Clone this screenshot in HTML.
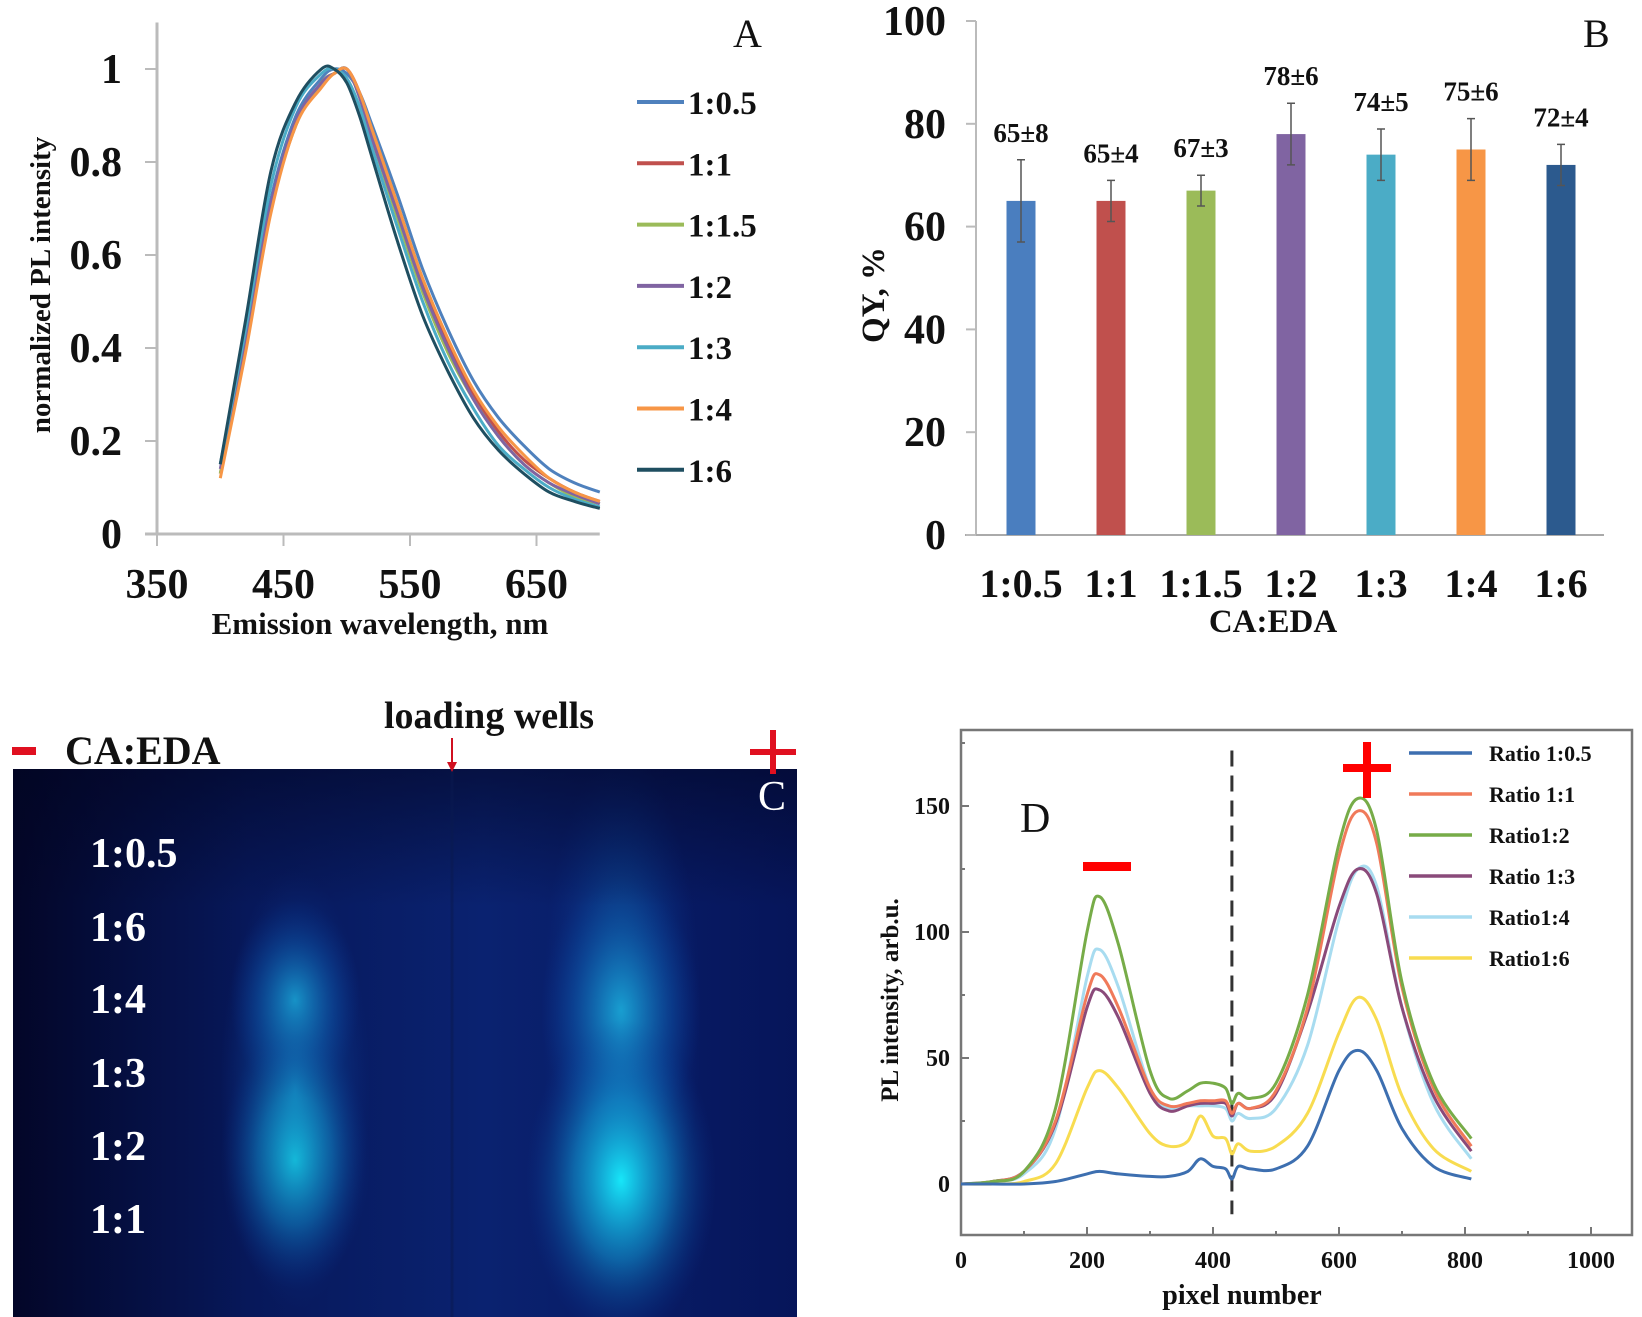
<!DOCTYPE html>
<html><head><meta charset="utf-8">
<style>
html,body{margin:0;padding:0;background:#fff;}
svg{display:block;}
text{font-family:"Liberation Serif",serif;font-weight:bold;fill:#111;}
</style></head>
<body>
<svg id="fig" width="1642" height="1317" viewBox="0 0 1642 1317" xmlns="http://www.w3.org/2000/svg">
<defs>
<linearGradient id="gelbg" x1="0" y1="0" x2="1" y2="0">
<stop offset="0" stop-color="#030628"/><stop offset="0.3" stop-color="#07185a"/><stop offset="0.6" stop-color="#0a2270"/><stop offset="1" stop-color="#06155a"/>
</linearGradient>
<linearGradient id="gelv" x1="0" y1="0" x2="0" y2="1">
<stop offset="0" stop-color="#020420" stop-opacity="0.55"/><stop offset="0.25" stop-color="#020420" stop-opacity="0"/><stop offset="1" stop-color="#020420" stop-opacity="0"/>
</linearGradient>
<radialGradient id="glow"><stop offset="0" stop-color="#18f0ff" stop-opacity="0.95"/><stop offset="0.5" stop-color="#12a8e0" stop-opacity="0.5"/><stop offset="1" stop-color="#0a3a9a" stop-opacity="0"/></radialGradient>
<radialGradient id="glow2"><stop offset="0" stop-color="#1aa8d8" stop-opacity="0.8"/><stop offset="0.6" stop-color="#0e5cb0" stop-opacity="0.35"/><stop offset="1" stop-color="#0a3a9a" stop-opacity="0"/></radialGradient>
<clipPath id="gelclip"><rect x="13" y="769" width="784" height="548"/></clipPath>
</defs>
<g id="panelA"></g>
<g id="panelB"></g>
<g id="panelC">
 <g clip-path="url(#gelclip)">
  <rect x="13" y="769" width="784" height="548" fill="url(#gelbg)"/>
  <ellipse cx="295" cy="1090" rx="75" ry="220" fill="url(#glow2)" opacity="0.8"/>
  <ellipse cx="295" cy="1000" rx="65" ry="100" fill="url(#glow2)"/>
  <ellipse cx="295" cy="1160" rx="75" ry="130" fill="url(#glow)" opacity="0.7"/>
  <ellipse cx="621" cy="1020" rx="80" ry="270" fill="url(#glow2)" opacity="0.85"/>
  <ellipse cx="621" cy="1010" rx="80" ry="130" fill="url(#glow2)"/>
  <ellipse cx="621" cy="1180" rx="95" ry="160" fill="url(#glow)"/>
  <rect x="13" y="769" width="784" height="548" fill="url(#gelv)"/>
  <line x1="452" y1="769" x2="452" y2="1317" stroke="#0a1a50" stroke-width="3" opacity="0.5"/>
 </g>
  <text x="90" y="867" font-size="42" style="fill:#fff">1:0.5</text>
  <text x="90" y="941" font-size="42" style="fill:#fff">1:6</text>
  <text x="90" y="1013" font-size="42" style="fill:#fff">1:4</text>
  <text x="90" y="1087" font-size="42" style="fill:#fff">1:3</text>
  <text x="90" y="1160" font-size="42" style="fill:#fff">1:2</text>
  <text x="90" y="1233" font-size="42" style="fill:#fff">1:1</text>
  <text x="758" y="810" font-size="42" style="fill:#fff;font-weight:normal">C</text>
  <rect x="12" y="747" width="24" height="8" fill="#e01020"/>
  <text x="65" y="764" font-size="40">CA:EDA</text>
  <text x="489" y="728" font-size="38" text-anchor="middle">loading wells</text>
  <line x1="452" y1="738" x2="452" y2="770" stroke="#d01020" stroke-width="2"/>
  <polygon points="447,762 457,762 452,772" fill="#d01020"/>
  <rect x="750" y="749" width="46" height="6" fill="#e01020"/>
  <rect x="770" y="730" width="6" height="44" fill="#e01020"/>
</g>
<g id="panelD"></g>
</svg>
<script>
const NS="http://www.w3.org/2000/svg";
function mk(parent,tag,attrs,txt){const e=document.createElementNS(NS,tag);for(const k in attrs)e.setAttribute(k,attrs[k]);if(txt!==undefined)e.textContent=txt;parent.appendChild(e);return e;}
function smooth(pts){
 let d='M'+pts[0][0].toFixed(1)+','+pts[0][1].toFixed(1);
 for(let i=0;i<pts.length-1;i++){
  const p0=pts[i-1]||pts[i],p1=pts[i],p2=pts[i+1],p3=pts[i+2]||p2;
  const c1=[p1[0]+(p2[0]-p0[0])/6,p1[1]+(p2[1]-p0[1])/6];
  const c2=[p2[0]-(p3[0]-p1[0])/6,p2[1]-(p3[1]-p1[1])/6];
  d+='C'+c1[0].toFixed(1)+','+c1[1].toFixed(1)+' '+c2[0].toFixed(1)+','+c2[1].toFixed(1)+' '+p2[0].toFixed(1)+','+p2[1].toFixed(1);
 }
 return d;
}

// ---------- Panel A data ----------
const aWavelengths=[400,420,440,460,480,490,500,510,520,540,560,580,600,620,640,660,680,700];
const aSeriesNames=["1:0.5","1:1","1:1.5","1:2","1:3","1:4","1:6"];
const aColors=["#4f81bd","#c0504d","#9bbb59","#8064a2","#4bacc6","#f79646","#1f4e60"];
const aS05=[0.15,0.42,0.72,0.90,0.98,1.00,0.99,0.95,0.88,0.73,0.57,0.44,0.33,0.25,0.19,0.14,0.11,0.09];
const aS1=[0.13,0.40,0.70,0.88,0.97,0.99,1.00,0.95,0.86,0.70,0.54,0.41,0.30,0.22,0.16,0.12,0.09,0.07];
const aS15=[0.13,0.40,0.70,0.88,0.97,0.99,1.00,0.94,0.85,0.68,0.52,0.39,0.29,0.21,0.15,0.11,0.08,0.065];
const aS2=[0.14,0.41,0.71,0.89,0.97,0.99,1.00,0.94,0.85,0.69,0.53,0.40,0.29,0.21,0.15,0.11,0.085,0.065];
const aS3=[0.15,0.44,0.75,0.92,0.99,1.00,0.98,0.92,0.83,0.66,0.50,0.37,0.27,0.19,0.14,0.10,0.075,0.058];
const aS4=[0.12,0.39,0.69,0.88,0.96,0.99,1.00,0.95,0.87,0.71,0.55,0.42,0.31,0.23,0.17,0.12,0.09,0.07];
const aS6=[0.15,0.46,0.78,0.93,1.00,1.00,0.97,0.90,0.81,0.63,0.47,0.35,0.25,0.18,0.13,0.09,0.07,0.055];
const aSeries=[aS05,aS1,aS15,aS2,aS3,aS4,aS6];
const aXTicks=[350,450,550,650];
const aYTicks=[0,0.2,0.4,0.6,0.8,1];
const aYTickLabels=["0","0.2","0.4","0.6","0.8","1"];

// ---------- Panel B data ----------
const bCategories=["1:0.5","1:1","1:1.5","1:2","1:3","1:4","1:6"];
const bValues=[65,65,67,78,74,75,72];
const bErrors=[8,4,3,6,5,6,4];
const bColors=["#4a7ebf","#c0504d","#9bbb59","#8064a2","#4bacc6","#f79646","#2c5a8e"];
const bYTicks=[0,20,40,60,80,100];

// ---------- Panel D data ----------
const dPixels=[0,50,100,150,200,220,250,300,330,360,380,400,420,430,440,460,500,550,600,630,660,700,750,810];
const dNames=["Ratio 1:0.5","Ratio 1:1","Ratio1:2","Ratio 1:3","Ratio1:4","Ratio1:6"];
const dColors=["#3d6fb0","#f07a5a","#77ac48","#8a4a7a","#a8dcf0","#f8dc50"];
const dR05=[0,0,0,1,4,5,4,3,3,5,10,7,6,2,7,6,6,15,45,53,45,22,7,2];
const dR1=[0,1,5,25,75,83,70,38,31,32,33,33,33,28,32,30,37,70,130,148,135,78,38,15];
const dR2=[0,1,5,30,100,114,95,45,34,37,40,40,38,32,36,34,40,75,135,153,140,80,40,18];
const dR3=[0,1,5,24,70,77,66,36,29,31,32,32,32,27,32,30,36,68,110,125,115,70,35,13];
const dR4=[0,1,4,22,82,93,78,38,30,31,31,31,30,25,28,26,30,55,105,125,118,70,32,10];
const dR6=[0,0,1,8,38,45,38,20,15,17,27,19,18,12,16,13,15,28,60,74,65,35,14,5];
const dSeries=[dR05,dR1,dR2,dR3,dR4,dR6];
const dXTicks=[0,200,400,600,800,1000];
const dYTicks=[0,50,100,150];
const dDashX=430;

// ---------- Draw A ----------
(function(){
 const g=document.getElementById('panelA');
 const x=v=>157+(v-350)*1.265, y=v=>534-v*465;
 let e=mk(g,'line',{x1:157,y1:y(1.1),x2:157,y2:534,stroke:'#bbb','stroke-width':3});
 
 e=mk(g,'line',{x1:145,y1:534,x2:x(700),y2:534,stroke:'#bbb','stroke-width':3});
 
 aYTicks.forEach((t,i)=>{
  mk(g,'line',{x1:145,y1:y(t),x2:157,y2:y(t),stroke:'#bbb','stroke-width':2});
  const tx=mk(g,'text',{x:122,y:y(t)+14,'font-size':42,'text-anchor':'end'},aYTickLabels[i]);
  
 });
 aXTicks.forEach(t=>{
  mk(g,'line',{x1:x(t),y1:534,x2:x(t),y2:546,stroke:'#bbb','stroke-width':2});
  const tx=mk(g,'text',{x:x(t),y:598,'font-size':42,'text-anchor':'middle'},String(t));
  
 });
 e=mk(g,'text',{x:380,y:634,'font-size':31,'text-anchor':'middle'},'Emission wavelength, nm');
 
 e=mk(g,'text',{x:0,y:0,'font-size':29,'text-anchor':'middle',transform:'translate(50,285) rotate(-90)'},'normalized PL intensity');
 
 e=mk(g,'text',{x:733,y:47,'font-size':40,style:'font-weight:normal'},'A');
 
 aSeries.forEach((s,i)=>{
  const d=smooth(s.map((v,j)=>[x(aWavelengths[j]),y(v)]));
  const p=mk(g,'path',{d:d,fill:'none',stroke:aColors[i],'stroke-width':3,'stroke-linejoin':'round'});
  
  const ly=102+i*61.3;
  const l=mk(g,'line',{x1:637,y1:ly,x2:684,y2:ly,stroke:aColors[i],'stroke-width':4});
  
  const t=mk(g,'text',{x:688,y:ly+12,'font-size':33},aSeriesNames[i]);
  
 });
})();

// ---------- Draw B ----------
(function(){
 const g=document.getElementById('panelB');
 const y=v=>535-v*5.14, cx=i=>1021+i*90;
 let e=mk(g,'line',{x1:976,y1:y(100),x2:976,y2:535,stroke:'#bbb','stroke-width':2});
 
 e=mk(g,'line',{x1:965,y1:535,x2:1604,y2:535,stroke:'#aaa','stroke-width':2});
 
 bYTicks.forEach(t=>{
  mk(g,'line',{x1:966,y1:y(t),x2:976,y2:y(t),stroke:'#bbb','stroke-width':2});
  const tx=mk(g,'text',{x:946,y:y(t)+14,'font-size':42,'text-anchor':'end'},String(t));
  
 });
 bValues.forEach((v,i)=>{
  const r=mk(g,'rect',{x:cx(i)-14.5,y:y(v),width:29,height:535-y(v),fill:bColors[i]});
  
  const eb=mk(g,'path',{d:`M${cx(i)},${y(v+bErrors[i])}V${y(v-bErrors[i])}M${cx(i)-4},${y(v+bErrors[i])}H${cx(i)+4}M${cx(i)-4},${y(v-bErrors[i])}H${cx(i)+4}`,stroke:'#555','stroke-width':1.5,fill:'none'});
  
  const vl=mk(g,'text',{x:cx(i),y:y(v+bErrors[i])-18,'font-size':27,'text-anchor':'middle'},v+'±'+bErrors[i]);
  
  const cl=mk(g,'text',{x:cx(i),y:597,'font-size':40,'text-anchor':'middle'},bCategories[i]);
  
 });
 e=mk(g,'text',{x:1273,y:632,'font-size':33,'text-anchor':'middle'},'CA:EDA');
 
 e=mk(g,'text',{x:0,y:0,'font-size':33,'text-anchor':'middle',transform:'translate(884,295) rotate(-90)'},'QY, %');
 
 e=mk(g,'text',{x:1583,y:47,'font-size':40,style:'font-weight:normal'},'B');
 
})();

// ---------- Draw D ----------
(function(){
 const g=document.getElementById('panelD');
 const x=v=>961+v*0.63, y=v=>1184-v*2.52;
 let e=mk(g,'rect',{x:961,y:730,width:671,height:505,fill:'none',stroke:'#777','stroke-width':2.5});
 
 dXTicks.forEach(t=>{
  mk(g,'line',{x1:x(t),y1:1235,x2:x(t),y2:1227,stroke:'#777','stroke-width':2});
  mk(g,'line',{x1:x(t+100),y1:1235,x2:x(t+100),y2:1231,stroke:'#777','stroke-width':2});
  const tx=mk(g,'text',{x:x(t),y:1268,'font-size':24,'text-anchor':'middle'},String(t));
  
 });
 dYTicks.forEach(t=>{
  mk(g,'line',{x1:961,y1:y(t),x2:969,y2:y(t),stroke:'#777','stroke-width':2});
  mk(g,'line',{x1:961,y1:y(t+25),x2:965,y2:y(t+25),stroke:'#777','stroke-width':2});
  const tx=mk(g,'text',{x:950,y:y(t)+8,'font-size':24,'text-anchor':'end'},String(t));
  
 });
 e=mk(g,'text',{x:1242,y:1304,'font-size':28,'text-anchor':'middle'},'pixel number');
 
 e=mk(g,'text',{x:0,y:0,'font-size':25,'text-anchor':'middle',transform:'translate(898,1000) rotate(-90)'},'PL intensity, arb.u.');
 
 e=mk(g,'line',{x1:x(dDashX),y1:y(172),x2:x(dDashX),y2:y(-12),stroke:'#333','stroke-width':3,'stroke-dasharray':'16,9'});
 
 const order=[4,5,3,1,2,0];
 order.forEach(i=>{
  const s=dSeries[i];
  const d=smooth(s.map((v,j)=>[x(dPixels[j]),y(v)]));
  const p=mk(g,'path',{d:d,fill:'none',stroke:dColors[i],'stroke-width':3,'stroke-linejoin':'round'});
  
 });
 dNames.forEach((n,i)=>{
  const ly=753+i*41;
  const l=mk(g,'line',{x1:1409,y1:ly,x2:1472,y2:ly,stroke:dColors[i],'stroke-width':3.5});
  
  const t=mk(g,'text',{x:1489,y:ly+8,'font-size':22},n);
  
 });
 e=mk(g,'text',{x:1020,y:832,'font-size':42,style:'font-weight:normal'},'D');
 
 e=mk(g,'rect',{x:1083,y:862,width:48,height:9,fill:'#ff0000'});
 
 e=mk(g,'rect',{x:1343,y:764,width:48,height:8,fill:'#ff0000'});
 
 e=mk(g,'rect',{x:1363,y:742,width:8,height:56,fill:'#ff0000'});
 
})();
</script>
</body></html>
